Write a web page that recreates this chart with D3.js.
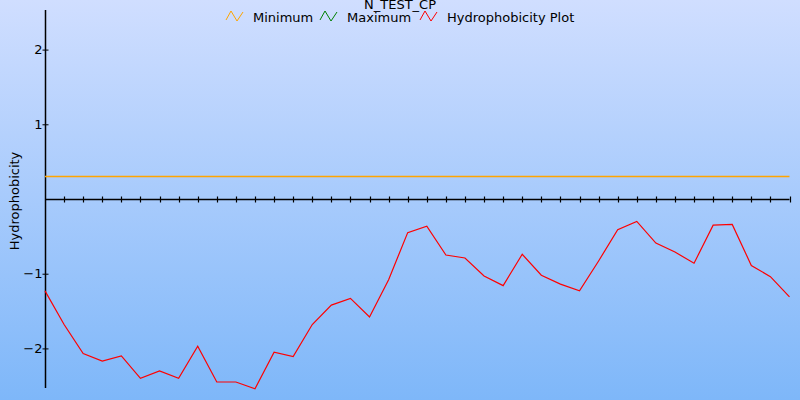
<!DOCTYPE html>
<html>
<head>
<meta charset="utf-8">
<script src="https://cdn.jsdelivr.net/npm/d3@7"></script>
<style>
  html, body { margin: 0; padding: 0; }
  svg { display: block; font-family: "DejaVu Sans", Verdana, sans-serif; }
</style>
</head>
<body>
<svg id="chart" width="800" height="400"></svg>
<script>
const title = "N_TEST_CP";
const yLabel = "Hydrophobicity";
const positions = d3.range(40);
const hydroValues = [-1.23, -1.68, -2.07, -2.17, -2.10, -2.40, -2.30, -2.40, -1.97, -2.45,
  -2.45, -2.54, -2.05, -2.11, -1.68, -1.42, -1.33, -1.58, -1.08, -0.45,
  -0.365, -0.75, -0.79, -1.03, -1.16, -0.74, -1.02, -1.14, -1.23, -0.83,
  -0.41, -0.30, -0.59, -0.71, -0.86, -0.35, -0.34, -0.89, -1.04, -1.31];
const minimumValue = 0.31;
const yTicks = [-2, -1, 1, 2];
const legendItems = [
  { name: "Minimum", color: "#ffa500" },
  { name: "Maximum", color: "#008000" },
  { name: "Hydrophobicity Plot", color: "#ff0000" }
];

const svg = d3.select("#chart");
const W = 800, H = 400;

const defs = svg.append("defs");
const grad = defs.append("linearGradient").attr("id", "bg")
  .attr("x1", 0).attr("y1", 0).attr("x2", 0).attr("y2", 1);
grad.append("stop").attr("offset", "0%").attr("stop-color", "#d0deff");
grad.append("stop").attr("offset", "100%").attr("stop-color", "#7eb7f9");
svg.append("rect").attr("width", W).attr("height", H).attr("fill", "url(#bg)");

const x = d3.scaleLinear().domain([0, 39]).range([45, 789.5]);
const y = d3.scaleLinear().domain([-2.53, 2.53]).range([388, 10]);

// y axis
const yAxis = d3.axisLeft(y).tickValues(yTicks).tickSize(3).tickFormat(d3.format("d"));
const yg = svg.append("g").attr("transform", "translate(45.5,0)").call(yAxis);
yg.select(".domain").remove();
yg.append("line").attr("x1", 0).attr("x2", 0).attr("y1", 10).attr("y2", 388)
  .attr("stroke", "#000").attr("stroke-width", 1.5);
yg.selectAll(".tick line").attr("x1", -3).attr("x2", 3).attr("stroke", "#000");
yg.selectAll(".tick text").attr("x", -3).attr("font-size", 13)
  .attr("font-family", "DejaVu Sans, sans-serif").attr("fill", "#000");

// x axis (zero line) with ticks
const xg = svg.append("g").attr("transform", `translate(0,${Math.round(y(0)) + 0.5})`);
xg.append("line").attr("x1", 45).attr("x2", x(39)).attr("stroke", "#000").attr("stroke-width", 1.5);
xg.selectAll("line.t").data(positions.slice(1)).enter().append("line").attr("class", "t")
  .attr("x1", d => Math.round(x(d)) + 0.5).attr("x2", d => Math.round(x(d)) + 0.5)
  .attr("y1", -3).attr("y2", 3).attr("stroke", "#000").attr("stroke-width", 1.2);

// minimum line
svg.append("line").attr("x1", 45).attr("x2", x(39))
  .attr("y1", Math.round(y(minimumValue)) + 0.5).attr("y2", Math.round(y(minimumValue)) + 0.5)
  .attr("stroke", "#ffa500").attr("stroke-width", 1.5);

// hydrophobicity line
const line = d3.line().x((d, i) => x(positions[i])).y(d => y(d));
svg.append("path").datum(hydroValues).attr("d", line)
  .attr("fill", "none").attr("stroke", "#ff0000").attr("stroke-width", 1.2);

// title
svg.append("text").attr("x", 400).attr("y", 9).attr("text-anchor", "middle")
  .attr("font-size", 13).attr("fill", "#000").text(title);

// y label
svg.append("text").attr("transform", "translate(19,201) rotate(-90)")
  .attr("text-anchor", "middle").attr("font-size", 13).attr("fill", "#000").text(yLabel);

// legend
const legendX = [226, 320, 420];
legendItems.forEach((it, i) => {
  const g = svg.append("g").attr("transform", `translate(${legendX[i]},11)`);
  g.append("polyline").attr("points", "0,9 5,0 11,10 17,1")
    .attr("fill", "none").attr("stroke", it.color).attr("stroke-width", 1);
  g.append("text").attr("x", 27).attr("y", 11).attr("font-size", 13)
    .attr("fill", "#000").text(it.name);
});
</script>
</body>
</html>
